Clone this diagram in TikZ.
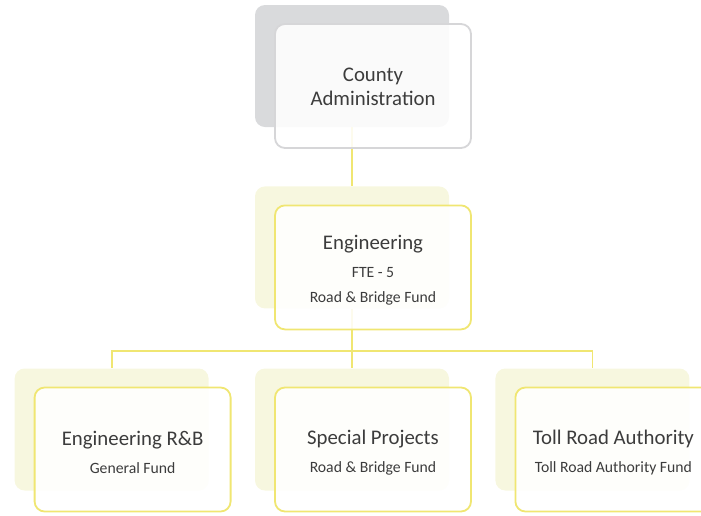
\documentclass[tikz,border=0pt]{standalone}
\usepackage{fontspec}
\setmainfont{Carlito}
\usetikzlibrary{positioning}
\definecolor{linkline}{HTML}{F0E672}
\definecolor{paleyellow}{HTML}{F7F7DF}
\definecolor{shadegray}{HTML}{D9DADC}
\definecolor{edgegray}{HTML}{D6D6D8}
\definecolor{textgray}{HTML}{3C3C3C}
\newcommand{\headline}[1]{{\fontsize{20.8}{24}\selectfont #1}}

\begin{document}
\begin{tikzpicture}[x=1pt,y=1pt,
  every node/.style={text=textgray,font=\fontsize{15.7}{25}\selectfont},
  backbox/.style={rounded corners=10pt,minimum width=194pt,minimum height=122pt,inner sep=0pt},
  frontbox/.style={draw,line width=1.8pt,rounded corners=10pt,fill=white,fill opacity=0.88,
    minimum width=196pt,minimum height=124pt,inner sep=0pt,xshift=21pt,yshift=-20pt},
  boxtext/.style={label={[align=center,yshift=-3pt]center:#1}}]
 \useasboundingbox (0,0) rectangle (701,-515);
 % shaded boxes behind
 \node[backbox,fill=shadegray] (adminbk) at (352,-66) {};
 \node[backbox,fill=paleyellow,below=59pt of adminbk] (engbk) {};
 \node[backbox,fill=paleyellow] (spbk) at (352,-429.5) {};
 \node[backbox,fill=paleyellow,left=46pt of spbk] (rbbk) {};
 \node[backbox,fill=paleyellow,right=46pt of spbk] (tollbk) {};
 % connectors
 \coordinate[below=42pt of engbk.south] (bus);
 \draw[linkline,line width=1.8pt] (adminbk.south) -- (engbk.north);
 \draw[linkline,line width=1.8pt] (engbk.south) -- (bus) -- (spbk.north);
 \draw[linkline,line width=1.8pt] (bus) -| (rbbk.north);
 \draw[linkline,line width=1.8pt] (bus) -| (tollbk.north);
 % boxes in front
 \node[frontbox,draw=edgegray,label={[align=center,yshift=-1pt]center:\headline{County}\\[-1pt]\headline{Administration}}] (admin) at (adminbk) {};
 \node[frontbox,draw=linkline,boxtext={\headline{Engineering}\\[3pt]FTE - 5\\Road \& Bridge Fund}] (eng) at (engbk) {};
 \node[frontbox,draw=linkline,boxtext={\headline{Engineering R\&B}\\[3pt]General Fund}] (rb) at (rbbk) {};
 \node[frontbox,draw=linkline,boxtext={\headline{Special Projects}\\[3pt]Road \& Bridge Fund}] (sp) at (spbk) {};
 \node[frontbox,draw=linkline,boxtext={\headline{Toll Road Authority}\\[3pt]Toll Road Authority Fund}] (toll) at (tollbk) {};
\end{tikzpicture}
\end{document}
